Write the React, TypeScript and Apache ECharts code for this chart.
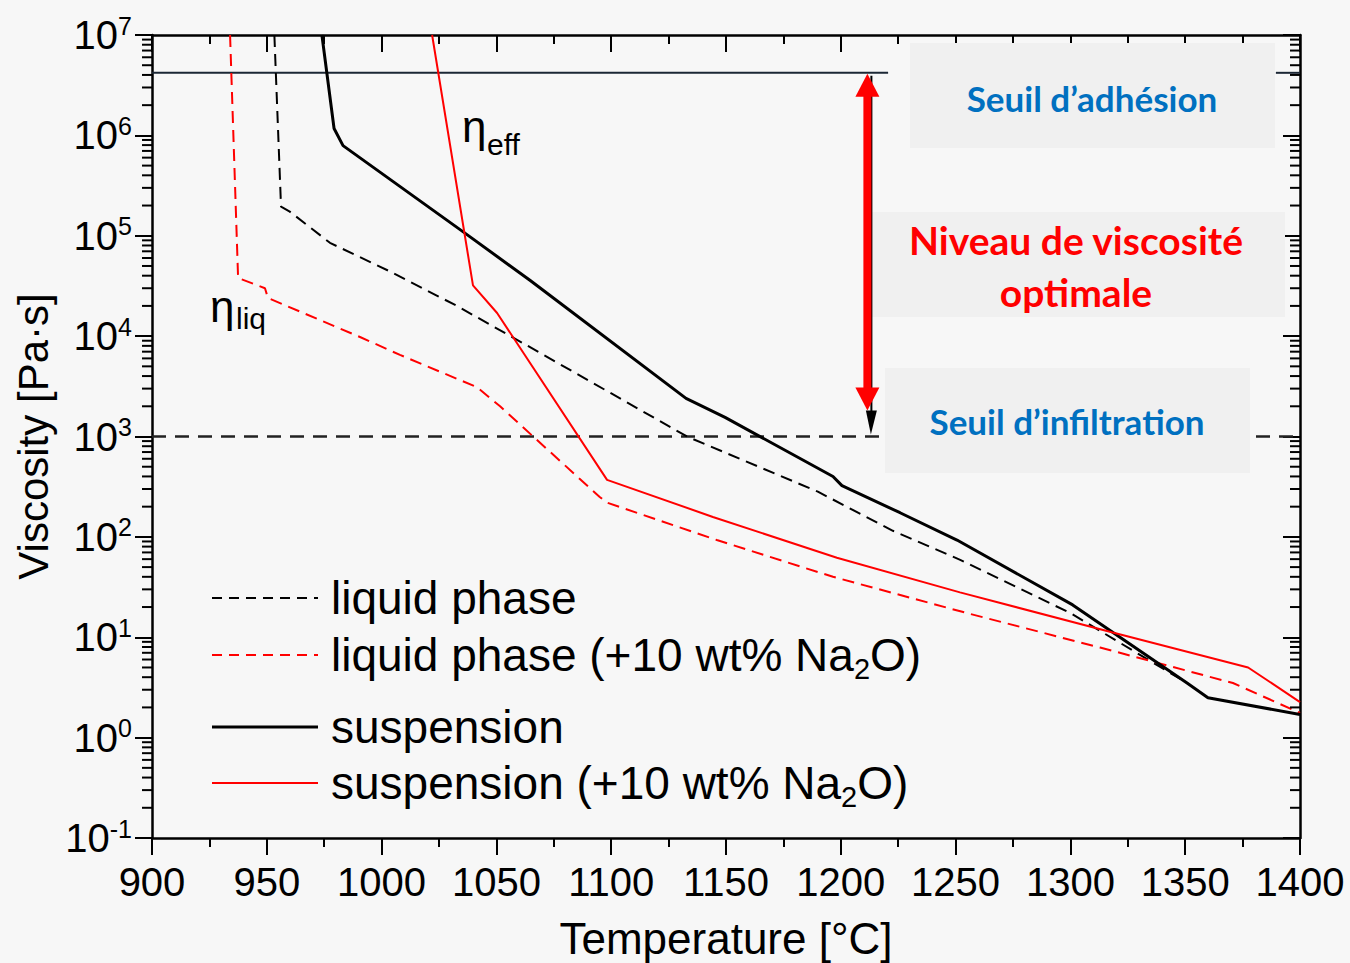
import React, { useEffect, useRef } from 'react';
import * as echarts from 'echarts';

// ---- data (temperature in °C, viscosity in Pa·s) ----
const liquidT = [953.3, 956.2, 960, 977.5, 1003.7, 1032.8, 1061.6, 1133, 1190, 1222.7, 1252, 1300, 1350.8];
const liquidV = [1e7, 1.95e5, 1.74e5, 8.5e4, 4.4e4, 2.0e4, 8.5e3, 1.0e3, 282, 115, 59, 17.4, 3.5];

const liquidNaT = [934.0, 937.5, 949.2, 950.5, 990.6, 1008, 1041.5, 1051.6, 1066, 1095, 1098, 1146, 1196.6, 1255, 1312.9, 1370.8, 1400];
const liquidNaV = [1e7, 3.8e4, 3.0e4, 2.4e4, 9.8e3, 6.5e3, 3.1e3, 2.0e3, 1.0e3, 250, 220, 93, 40, 17.4, 7.9, 3.5, 1.76];

const suspT = [974, 979.3, 983.2, 1035.4, 1064.6, 1132.6, 1149.6, 1196.6, 1200.5, 1225.8, 1250.6, 1301, 1350.8, 1359.9, 1400];
const suspV = [1e7, 1.17e6, 7.9e5, 1.1e5, 3.6e4, 2.4e3, 1.55e3, 400, 324, 174, 93, 21, 3.5, 2.5, 1.7];

const suspNaT = [1022, 1039.8, 1050.3, 1098.2, 1144.3, 1198.3, 1251.9, 1318, 1377.4, 1400];
const suspNaV = [1e7, 3.2e4, 1.7e4, 370, 158, 62, 28, 11.2, 5.0, 2.26];

const adhesionLevel = 4.2e6;
const infiltrationLevel = 1e3;
const adhesionSegments = [[900, 1220.6], [1389.5, 1400]];
const arrowT = 1211.8;

const xMin = 900;
const xMax = 1400;
const xStep = 50;
const yMin = 0.1;
const yMax = 1e7;
const decades = [-1, 0, 1, 2, 3, 4, 5, 6];
const minorMultipliers = [2, 3, 4, 5, 6, 7, 8, 9];

const legendItems = [
  { label: 'liquid phase', sub: '', tail: '', color: '#000', dashed: true, width: 2 },
  { label: 'liquid phase (+10 wt% Na', sub: '2', tail: 'O)', color: '#ff0000', dashed: true, width: 2 },
  { label: 'suspension', sub: '', tail: '', color: '#000', dashed: false, width: 3 },
  { label: 'suspension (+10 wt% Na', sub: '2', tail: 'O)', color: '#ff0000', dashed: false, width: 2 },
];

const zip = (xs: number[], ys: number[]) => xs.map((x, i) => [x, ys[i]]);

const ARIAL = "'Liberation Sans', Arial, sans-serif";
const CAL = "Lato, Carlito, Calibri, sans-serif";

export default function App() {
  const ref = useRef<HTMLDivElement>(null);
  useEffect(() => {
    document.body.style.margin = '0';
    const chart = echarts.init(ref.current!, null, { renderer: 'svg' });

    const minorData: number[][] = [];
    decades.forEach((d) => {
      minorMultipliers.forEach((m) => {
        minorData.push([xMin, m * Math.pow(10, d)]);
        minorData.push([xMax, m * Math.pow(10, d)]);
      });
    });

    const axisLineStyle = { color: '#000', width: 2.5 };
    const option: any = {
      animation: false,
      backgroundColor: '#f7f7f7',
      grid: { left: 152, right: 50, top: 35, bottom: 125, outerBoundsMode: 'none' },
      xAxis: [
        {
          type: 'value', min: xMin, max: xMax, interval: xStep, position: 'bottom',
          axisLine: { show: true, lineStyle: axisLineStyle },
          axisTick: { show: true, length: 17, lineStyle: { color: '#000', width: 2 } },
          minorTick: { show: true, splitNumber: 2, length: 9, lineStyle: { color: '#000', width: 2 } },
          splitLine: { show: false },
          axisLabel: {
            color: '#000', fontSize: 40, fontFamily: ARIAL, margin: 24, showMinLabel: true, showMaxLabel: true,
            formatter: (v: number) => String(v),
          },
          name: 'Temperature [°C]', nameLocation: 'middle', nameGap: 78,
          nameTextStyle: { color: '#000', fontSize: 44, fontFamily: ARIAL },
        },
        {
          type: 'value', min: xMin, max: xMax, interval: xStep, position: 'top',
          axisLine: { show: true, lineStyle: axisLineStyle },
          axisTick: { show: true, inside: true, length: 17, lineStyle: { color: '#000', width: 2 } },
          minorTick: { show: true, splitNumber: 2, length: 9, lineStyle: { color: '#000', width: 2 } },
          splitLine: { show: false },
          axisLabel: { show: false },
        },
      ],
      yAxis: [
        {
          type: 'log', logBase: 10, min: yMin, max: yMax, splitNumber: 8, position: 'left',
          axisLine: { show: true, lineStyle: axisLineStyle },
          axisTick: { show: true, length: 17, lineStyle: { color: '#000', width: 2 } },
          splitLine: { show: false },
          axisLabel: {
            margin: 20,
            formatter: (v: number) => `{b|10}{e|${Math.round(Math.log10(v))}}`,
            rich: {
              b: { fontSize: 40, fontFamily: ARIAL, color: '#000', lineHeight: 44 },
              e: { fontSize: 25, fontFamily: ARIAL, color: '#000', lineHeight: 24, verticalAlign: 'top' },
            },
          },
          name: 'Viscosity [Pa·s]', nameLocation: 'middle', nameGap: 94,
          nameTextStyle: { color: '#000', fontSize: 42, fontFamily: ARIAL },
        },
        {
          type: 'log', logBase: 10, min: yMin, max: yMax, splitNumber: 8, position: 'right',
          axisLine: { show: true, lineStyle: axisLineStyle },
          axisTick: { show: true, inside: true, length: 17, lineStyle: { color: '#000', width: 2 } },
          splitLine: { show: false },
          axisLabel: { show: false },
        },
      ],
      series: [
        {
          name: 'infiltration threshold', type: 'line', showSymbol: false, silent: true, z: 1,
          data: [[xMin, infiltrationLevel], [xMax, infiltrationLevel]],
          lineStyle: { color: '#222', width: 2.5, type: [14, 9] },
        },
        ...adhesionSegments.map((s, i) => ({
          name: 'adhesion threshold ' + i, type: 'line', showSymbol: false, silent: true, z: 1,
          data: [[s[0], adhesionLevel], [s[1], adhesionLevel]],
          lineStyle: { color: '#1b2735', width: 2 },
        })),
        {
          name: 'liquid phase', type: 'line', showSymbol: false, data: zip(liquidT, liquidV),
          lineStyle: { color: '#000', width: 2, type: [12, 7] },
        },
        {
          name: 'liquid phase (+10 wt% Na2O)', type: 'line', showSymbol: false, data: zip(liquidNaT, liquidNaV),
          lineStyle: { color: '#ff0000', width: 2, type: [12, 7] },
        },
        {
          name: 'suspension', type: 'line', showSymbol: false, data: zip(suspT, suspV),
          lineStyle: { color: '#000', width: 3 },
        },
        {
          name: 'suspension (+10 wt% Na2O)', type: 'line', showSymbol: false, data: zip(suspNaT, suspNaV),
          lineStyle: { color: '#ff0000', width: 2 },
        },
        {
          name: 'minor ticks', type: 'custom', coordinateSystem: 'cartesian2d', clip: false, silent: true, z: 10,
          data: minorData,
          renderItem: (params: any, api: any) => {
            const p = api.coord([api.value(0), api.value(1)]);
            return {
              type: 'line',
              shape: { x1: p[0] - 10, y1: p[1], x2: p[0], y2: p[1] },
              style: { stroke: '#000', lineWidth: 2 },
            };
          },
        },
      ],
    };
    chart.setOption(option);

    const top = chart.convertToPixel({ xAxisIndex: 0, yAxisIndex: 0 }, [arrowT, adhesionLevel]) as number[];
    const bot = chart.convertToPixel({ xAxisIndex: 0, yAxisIndex: 0 }, [arrowT, infiltrationLevel]) as number[];
    const ax = top[0];
    const ty = top[1] + 1;
    const by = bot[1];
    const redBottomTip = by - 26;

    const legendYs = [598, 655, 727, 783];
    const legendGraphics: any[] = [];
    legendItems.forEach((it, i) => {
      const y = legendYs[i];
      legendGraphics.push({
        type: 'line', z: 100,
        shape: { x1: 212, y1: y, x2: 318, y2: y },
        style: { stroke: it.color, lineWidth: it.width, lineDash: it.dashed ? [10, 7] : null },
      });
      legendGraphics.push({
        type: 'text', z: 100, x: 331, y,
        style: {
          text: it.sub ? `{n|${it.label}}{s|${it.sub}}{n|${it.tail}}` : `{n|${it.label}}`,
          verticalAlign: 'middle', align: 'left',
          rich: {
            n: { fontSize: 46, fontFamily: ARIAL, fill: '#000', lineHeight: 56 },
            s: { fontSize: 29, fontFamily: ARIAL, fill: '#000', lineHeight: 20, verticalAlign: 'bottom' },
          },
        },
      });
    });

    const boxFill = '#f0f0f0';
    const graphics: any[] = [
      // text boxes
      { type: 'rect', z: 90, shape: { x: 910, y: 43, width: 365, height: 105 }, style: { fill: boxFill } },
      { type: 'rect', z: 90, shape: { x: 872, y: 212, width: 413, height: 105 }, style: { fill: boxFill } },
      { type: 'rect', z: 90, shape: { x: 885, y: 368, width: 365, height: 105 }, style: { fill: boxFill } },
      {
        type: 'text', z: 100, x: 1092, y: 98,
        style: { text: 'Seuil d’adhésion', fill: '#0070c0', font: `bold 35px ${CAL}`, align: 'center', verticalAlign: 'middle' },
      },
      {
        type: 'text', z: 100, x: 1076, y: 240,
        style: { text: 'Niveau de viscosité', fill: '#ff0000', font: `bold 39px ${CAL}`, align: 'center', verticalAlign: 'middle' },
      },
      {
        type: 'text', z: 100, x: 1076, y: 292,
        style: { text: 'optimale', fill: '#ff0000', font: `bold 39px ${CAL}`, align: 'center', verticalAlign: 'middle' },
      },
      {
        type: 'text', z: 100, x: 1067, y: 421,
        style: { text: 'Seuil d’infiltration', fill: '#0070c0', font: `bold 35px ${CAL}`, align: 'center', verticalAlign: 'middle' },
      },
      // underlying black arrow
      { type: 'line', z: 95, shape: { x1: ax + 3.5, y1: ty + 2, x2: ax + 3.5, y2: by - 20 }, style: { stroke: '#000', lineWidth: 2 } },
      { type: 'polygon', z: 95, shape: { points: [[ax - 2, by - 26], [ax + 9, by - 26], [ax + 3, by - 2]] }, style: { fill: '#000' } },
      // red double arrow
      { type: 'rect', z: 96, shape: { x: ax - 4.5, y: ty + 20, width: 8, height: redBottomTip - ty - 40 }, style: { fill: '#ff0000' } },
      { type: 'polygon', z: 96, shape: { points: [[ax - 0.5, ty], [ax - 12.5, ty + 23], [ax + 11.5, ty + 23]] }, style: { fill: '#ff0000' } },
      { type: 'polygon', z: 96, shape: { points: [[ax - 0.5, redBottomTip], [ax - 12.5, redBottomTip - 23], [ax + 11.5, redBottomTip - 23]] }, style: { fill: '#ff0000' } },
      // eta labels
      { type: 'text', z: 100, x: 462, y: 126, style: { text: 'η', font: `44px ${ARIAL}`, fill: '#000', align: 'left', verticalAlign: 'middle' } },
      { type: 'text', z: 100, x: 487, y: 144, style: { text: 'eff', font: `30px ${ARIAL}`, fill: '#000', align: 'left', verticalAlign: 'middle' } },
      { type: 'text', z: 100, x: 210, y: 306, style: { text: 'η', font: `44px ${ARIAL}`, fill: '#000', align: 'left', verticalAlign: 'middle' } },
      { type: 'text', z: 100, x: 236, y: 318, style: { text: 'liq', font: `30px ${ARIAL}`, fill: '#000', align: 'left', verticalAlign: 'middle' } },
      ...legendGraphics,
    ];
    chart.setOption({ graphic: graphics });

    return () => chart.dispose();
  }, []);
  return <div ref={ref} style={{ width: 1350, height: 963 }} />;
}
